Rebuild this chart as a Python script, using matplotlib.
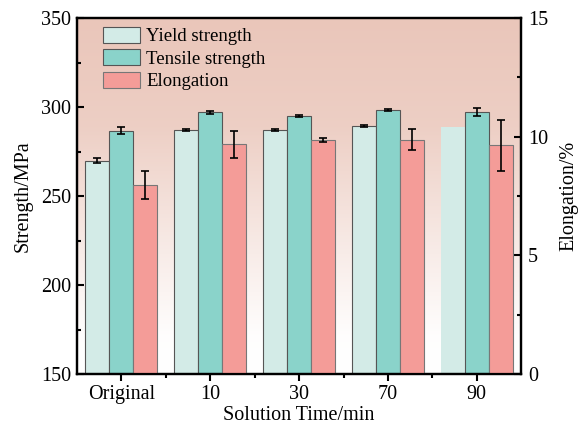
import matplotlib
matplotlib.use("Agg")
from matplotlib import pyplot as plt
from matplotlib.ticker import MultipleLocator, FixedLocator
import numpy as np

# data
groups = ["Original", "10", "30", "70", "90"]
yield_strength = [269.8, 287.2, 287.2, 289.4, 288.8]
yield_err = [1.4, 0.5, 0.5, 0.7, 0.0]
tensile_strength = [286.8, 297.0, 295.2, 298.2, 297.4]
tensile_err = [2.1, 1.0, 0.5, 0.5, 2.3]
elongation = [7.96, 9.68, 9.85, 9.87, 9.64]
elongation_err = [0.58, 0.56, 0.08, 0.44, 1.07]

c_yield = "#d3ebe7"
c_tensile = "#8ad3ca"
c_elong = "#f49c98"

plt.rcParams["font.family"] = ["Liberation Serif", "DejaVu Serif"]
plt.rcParams["font.size"] = 14.5


def main():
    fig, ax = plt.subplots(figsize=(5.83, 4.32), dpi=100)
    fig.subplots_adjust(left=0.132, right=0.894, top=0.958, bottom=0.134)
    ax2 = ax.twinx()

    x = np.arange(len(groups))
    w = 0.27

    # gradient background: salmon at top fading to white near the bottom
    t = np.linspace(0, 1, 256)
    f = np.interp(t, [0, 0.1, 0.35, 0.7, 1], [0, 0.02, 0.35, 0.85, 1])
    top = np.array([234, 198, 186]) / 255.0
    img = (1 - f)[:, None, None] * np.ones((256, 1, 3)) + f[:, None, None] * top
    ax.imshow(img, extent=(-0.5, 4.5, 150, 350), origin="lower", aspect="auto", zorder=0)

    edges_y = ["#555555"] * 4 + ["none"]
    ax.bar(x - w, yield_strength, w, color=c_yield, edgecolor=edges_y, linewidth=0.8,
           label="Yield strength", zorder=2)
    ax.errorbar(x[:4] - w, yield_strength[:4], yerr=yield_err[:4], fmt="none", ecolor="black",
                elinewidth=1.2, capsize=3, capthick=1.2, zorder=3)
    ax.bar(x, tensile_strength, w, color=c_tensile, edgecolor="#555555", linewidth=0.8,
           label="Tensile strength", zorder=2)
    ax.errorbar(x, tensile_strength, yerr=tensile_err, fmt="none", ecolor="black",
                elinewidth=1.2, capsize=3, capthick=1.2, zorder=3)

    ax2.bar(x + w, elongation, w, color=c_elong, edgecolor="#777777", linewidth=0.8,
            label="Elongation", zorder=2)
    ax2.errorbar(x + w, elongation, yerr=elongation_err, fmt="none", ecolor="black",
                 elinewidth=1.2, capsize=3, capthick=1.2, zorder=3)

    ax.set_xlim(-0.5, 4.5)
    ax.set_ylim(150, 350)
    ax2.set_ylim(0, 15)
    ax.set_xticks(x)
    ax.set_xticklabels(groups)
    ax.xaxis.set_minor_locator(FixedLocator(x[:-1] + 0.5))
    ax.yaxis.set_major_locator(MultipleLocator(50))
    ax.yaxis.set_minor_locator(MultipleLocator(25))
    ax2.yaxis.set_major_locator(MultipleLocator(5))
    ax2.yaxis.set_minor_locator(MultipleLocator(2.5))

    ax.tick_params(axis="y", direction="in", length=5, width=1.5, pad=4)
    ax.tick_params(axis="y", which="minor", direction="in", length=3, width=1.5)
    ax.tick_params(axis="x", direction="out", length=5, width=1.5, pad=3)
    ax.tick_params(axis="x", which="minor", direction="out", length=3, width=1.5)
    ax2.tick_params(axis="y", direction="in", length=5, width=1.5, pad=5)
    ax2.tick_params(axis="y", which="minor", direction="in", length=3, width=1.5)

    for a in (ax, ax2):
        for s in a.spines.values():
            s.set_linewidth(1.6)

    ax.set_xlabel("Solution Time/min", labelpad=1)
    ax.set_ylabel("Strength/MPa", labelpad=6)
    ax2.set_ylabel("Elongation/%", labelpad=8)

    h1, l1 = ax.get_legend_handles_labels()
    h2, l2 = ax2.get_legend_handles_labels()
    ax2.legend(h1 + h2, l1 + l2, loc="upper left", bbox_to_anchor=(0.029, 1.013),
               frameon=False, fontsize=13.5, handlelength=2.0, handleheight=0.95,
               handletextpad=0.3, labelspacing=0.22, borderpad=0.2)

    fig.savefig("out.png", dpi=100)


if __name__ == "__main__":
    main()
